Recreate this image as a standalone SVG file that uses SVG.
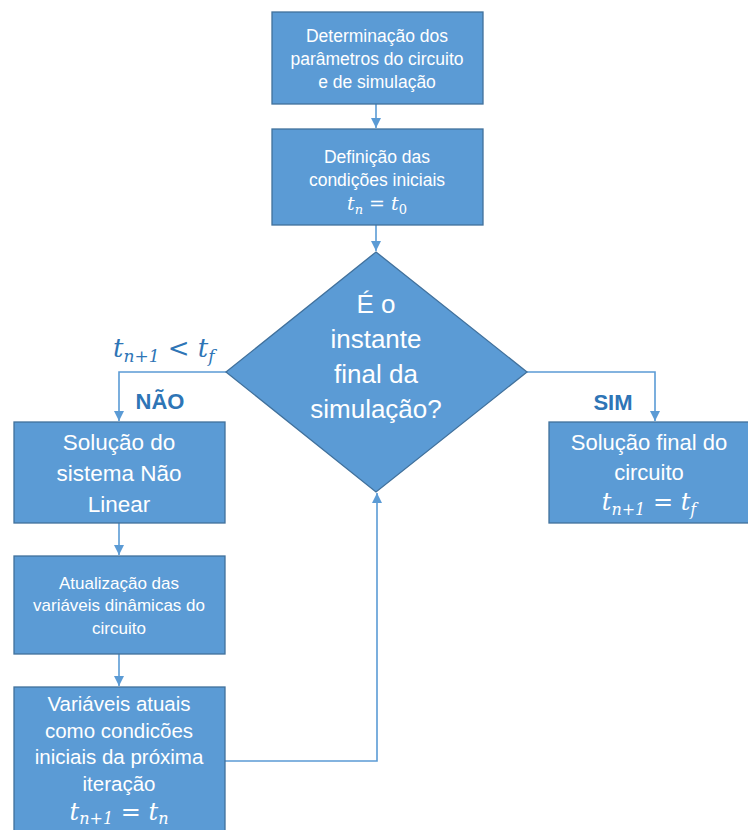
<svg xmlns="http://www.w3.org/2000/svg" width="748" height="830" viewBox="0 0 748 830">
<style>
.box{fill:#5B9BD5;stroke:#41719C;stroke-width:1.3}
.t{font-family:"Liberation Sans",Arial,sans-serif;fill:#FFFFFF;text-anchor:middle}
.m{font-family:"DejaVu Serif","Liberation Serif",serif;font-style:italic;fill:#FFFFFF;text-anchor:middle}
.mu{font-style:normal}
.con{fill:none;stroke:#5B9BD5;stroke-width:1.6}
.lbl{font-family:"Liberation Sans",Arial,sans-serif;font-weight:bold;fill:#2E75B6;text-anchor:middle}
.ml{font-family:"DejaVu Serif","Liberation Serif",serif;font-style:italic;fill:#2E75B6}
</style>
<defs>
<marker id="arr" viewBox="0 0 10 10" refX="10" refY="5" markerWidth="10" markerHeight="10" markerUnits="userSpaceOnUse" orient="auto">
<path d="M0,0 L10,5 L0,10 z" fill="#5B9BD5"/>
</marker>
</defs>
<rect width="748" height="830" fill="#FFFFFF"/>

<g id="connectors">
<path class="con" d="M376,104 V128" marker-end="url(#arr)"/>
<path class="con" d="M376,225 V251" marker-end="url(#arr)"/>
<path class="con" d="M226,372 H119 V421" marker-end="url(#arr)"/>
<path class="con" d="M527,372 H655 V421" marker-end="url(#arr)"/>
<path class="con" d="M119,523 V555" marker-end="url(#arr)"/>
<path class="con" d="M119,654 V686" marker-end="url(#arr)"/>
<path class="con" d="M225,761 H377 V493" marker-end="url(#arr)"/>
</g>

<g id="n1">
<rect class="box" x="272" y="12" width="211" height="92"/>
<text class="t" font-size="17.5"><tspan x="377" y="42">Determinação dos</tspan><tspan x="377" y="65">parâmetros do circuito</tspan><tspan x="377" y="88">e de simulação</tspan></text>
</g>

<g id="n2">
<rect class="box" x="272" y="129" width="211" height="96"/>
<text class="t" font-size="17.5"><tspan x="377" y="163">Definição das</tspan><tspan x="377" y="186">condições iniciais</tspan></text>
<text class="m" font-size="19" x="377" y="210">t<tspan font-size="13" dy="4">n</tspan><tspan class="mu" dy="-4"> = </tspan>t<tspan class="mu" font-size="13" dy="4">0</tspan></text>
</g>

<g id="n3">
<polygon class="box" points="376,252 527,372 376,492 226,372"/>
<text class="t" font-size="26"><tspan x="376" y="313">É o</tspan><tspan x="376" y="348">instante</tspan><tspan x="376" y="383">final da</tspan><tspan x="376" y="418">simulação?</tspan></text>
</g>

<g id="n4">
<rect class="box" x="14" y="422" width="211" height="101"/>
<text class="t" font-size="22.5"><tspan x="119" y="450">Solução do</tspan><tspan x="119" y="481">sistema Não</tspan><tspan x="119" y="512">Linear</tspan></text>
</g>

<g id="n5">
<rect class="box" x="14" y="556" width="211" height="98"/>
<text class="t" font-size="17"><tspan x="119" y="589">Atualização das</tspan><tspan x="119" y="611">variáveis dinâmicas do</tspan><tspan x="119" y="634">circuito</tspan></text>
</g>

<g id="n6">
<rect class="box" x="14" y="687" width="211" height="150"/>
<text class="t" font-size="20.5"><tspan x="119" y="711">Variáveis atuais</tspan><tspan x="119" y="738">como condicões</tspan><tspan x="119" y="764">iniciais da próxima</tspan><tspan x="119" y="791">iteração</tspan></text>
<text class="m" font-size="24" x="119" y="820">t<tspan font-size="16" dy="4">n+1</tspan><tspan class="mu" dy="-4"> = </tspan>t<tspan font-size="16" dy="4">n</tspan></text>
</g>

<g id="n7">
<rect class="box" x="549" y="422" width="200" height="101"/>
<text class="t" font-size="22"><tspan x="649" y="450">Solução final do</tspan><tspan x="649" y="480">circuito</tspan></text>
<text class="m" font-size="24" x="649" y="510">t<tspan font-size="16" dy="5">n+1</tspan><tspan class="mu" dy="-5"> = </tspan>t<tspan font-size="16" dy="5">f</tspan></text>
</g>

<g id="labels">
<text class="ml" font-size="26" x="113" y="357">t<tspan font-size="17" dy="5">n+1</tspan><tspan font-style="normal" dy="-5"> &lt; </tspan>t<tspan font-size="17" dy="5">f</tspan></text>
<text class="lbl" font-size="22" x="160" y="409">NÃO</text>
<text class="lbl" font-size="22" x="613" y="410">SIM</text>
</g>
</svg>
